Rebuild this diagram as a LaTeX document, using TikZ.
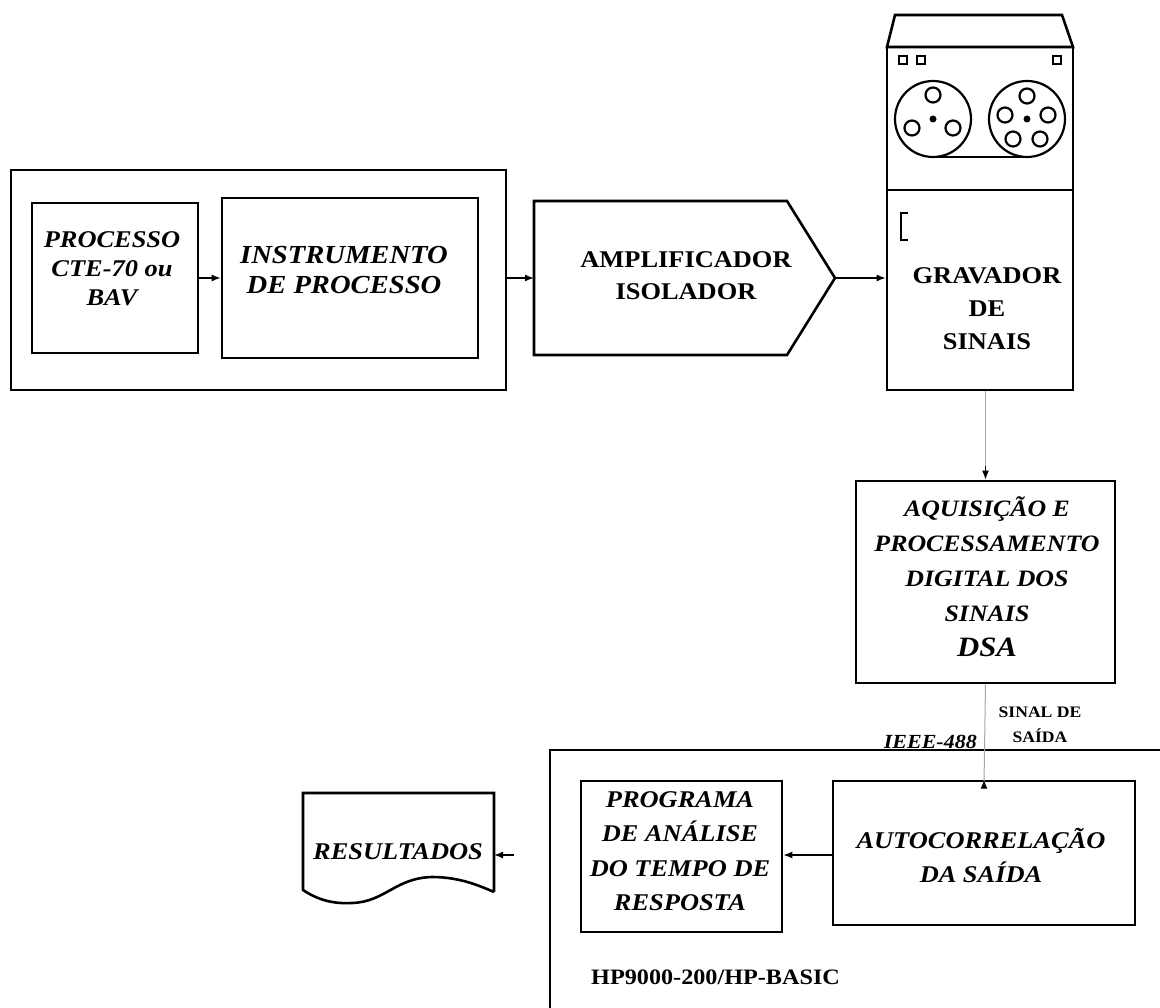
\documentclass[tikz,border=0pt]{standalone}
\usepackage{fontspec}
\setmainfont{Liberation Serif}[FakeStretch=1.1]
\usetikzlibrary{arrows.meta}

\begin{document}
\begin{tikzpicture}[x=1pt,y=-1pt,
  box/.style={draw, line width=2.6pt, inner sep=0pt},
  frame/.style={draw, line width=2.6pt},
  link/.style={line width=1.4pt, -{Latex[length=9pt,width=7pt]}},
  faint/.style={line width=1pt, draw=black!35},
  bi/.style={font=\fontsize{24}{30}\selectfont\bfseries\itshape, align=center, inner sep=0pt},
  bu/.style={font=\fontsize{24}{33}\selectfont\bfseries, align=center, inner sep=0pt},
  reel/.style={line width=2.2pt},
]
\useasboundingbox (0,0) rectangle (1160,1008);
\clip (0,0) rectangle (1160,1008);

% ---- process + instrument group ----
\node[box, minimum width=495pt, minimum height=220pt] (outer) at (258.5,280) {};
\node[box, minimum width=166pt, minimum height=150pt] (proc) at (115,278) {};
\node[box, minimum width=256pt, minimum height=160pt] (instr) at (350,278) {};
\node[bi, font=\fontsize{24}{29}\selectfont\bfseries\itshape] at (112,269) {PROCESSO\\CTE-70 ou\\BAV};
\node[bi, font=\fontsize{26}{30}\selectfont\bfseries\itshape] at (344,270) {INSTRUMENTO\\DE PROCESSO};

% ---- isolation amplifier ----
\coordinate (ampin) at (534,278);
\coordinate (amptip) at (835,278);
\draw[frame, line join=miter] (534,201) -- (787,201) -- (amptip) -- (787,355) -- (534,355) -- cycle;
\node[bu, font=\fontsize{24}{32}\selectfont\bfseries] (amp) at (686,276) {AMPLIFICADOR\\ISOLADOR};

% ---- signal recorder ----
\draw[frame, line join=miter] (895,15) -- (1062,15) -- (1073,47) -- (887,47) -- cycle;
\draw[frame] (887,47) rectangle (1073,190);
\node[box, minimum width=186pt, minimum height=200pt] (grav) at (980,290) {};
\foreach \sx in {903,921,1057}
  \draw[line width=2.4pt, fill=white] (\sx-4,56) rectangle (\sx+4,64);
% left reel
\draw[reel] (933,119) circle[radius=38pt];
\foreach \hx/\hy in {933/95, 912/128, 953/128}
  \draw[reel] (\hx,\hy) circle[radius=7.5pt];
\fill (933,119) circle[radius=3.5pt];
% right reel
\draw[reel] (1027,119) circle[radius=38pt];
\foreach \hx/\hy in {1027/96, 1005/115, 1048/115, 1013/139, 1040/139}
  \draw[reel] (\hx,\hy) circle[radius=7.5pt];
\fill (1027,119) circle[radius=3.5pt];
\draw[line width=2.6pt] (933,157) -- (1027,157);
% counter window bracket
\draw[line width=2.6pt] (908,213) -- (901,213) -- (901,240) -- (908,240);
\node[bu] at (987,309) {GRAVADOR\\DE\\SINAIS};

% ---- digital signal analyser ----
\node[box, minimum width=259pt, minimum height=202pt] (dsa) at (985.5,582) {};
\node[bi, font=\fontsize{23.5}{35}\selectfont\bfseries\itshape] at (987,577)
  {AQUISIÇÃO E\\PROCESSAMENTO\\DIGITAL DOS\\SINAIS\\{\fontsize{28}{35}\selectfont DSA}};

% ---- computer ----
\draw[frame] (1175,750) -- (550,750) -- (550,1020);
\node[box, minimum width=201pt, minimum height=151pt] (prog) at (681.5,856.5) {};
\node[box, minimum width=302pt, minimum height=144pt] (autoc) at (984,853) {};
\node[bi, font=\fontsize{24}{34.5}\selectfont\bfseries\itshape] at (680,851)
  {PROGRAMA\\DE ANÁLISE\\DO TEMPO DE\\RESPOSTA};
\node[bi, font=\fontsize{24}{34}\selectfont\bfseries\itshape] at (981,855)
  {AUTOCORRELAÇÃO\\DA SAÍDA};
\node[bu, font=\fontsize{22}{26}\selectfont\bfseries, anchor=base west] (hp) at (591,984)
  {HP9000-200/HP-BASIC};

% bus labels
\node[bi, font=\fontsize{20}{24}\selectfont\bfseries\itshape, anchor=base east] (ieee) at (977,748) {IEEE-488};
\node[bu, font=\fontsize{16}{25}\selectfont\bfseries] (sinal) at (1040,725) {SINAL DE\\SAÍDA};

% ---- results document ----
\coordinate (resin) at (494,855);
\draw[frame] (494,892) -- (494,793) -- (303,793) -- (303,890)
  .. controls (318,900) and (333,904) .. (352,903)
  .. controls (385,902) and (395,878) .. (432,877)
  .. controls (460,877) and (480,886) .. (494,892);
\node[bi] (res) at (398,852) {RESULTADOS};

% ---- connectors ----
\draw[link] (proc.east |- ampin) -- (instr.west |- ampin);
\draw[link] (outer.east |- ampin) -- (ampin);
\draw[link] (amptip) -- (grav.west |- amptip);
\draw[faint] (grav.south -| dsa) -- ([yshift=14pt]dsa.north);
\draw[link] ([yshift=14pt]dsa.north) -- (dsa.north);
\draw[faint] (dsa.south) -- ([yshift=-4pt]autoc.north);
\draw[link] ([yshift=-4pt]autoc.north) -- (autoc.north);
\draw[link] (autoc.west |- 0,855) -- (prog.east |- 0,855);
\coordinate (resarrow) at (514,855);
\draw[link] (resarrow) -- (resin);
\end{tikzpicture}
\end{document}
